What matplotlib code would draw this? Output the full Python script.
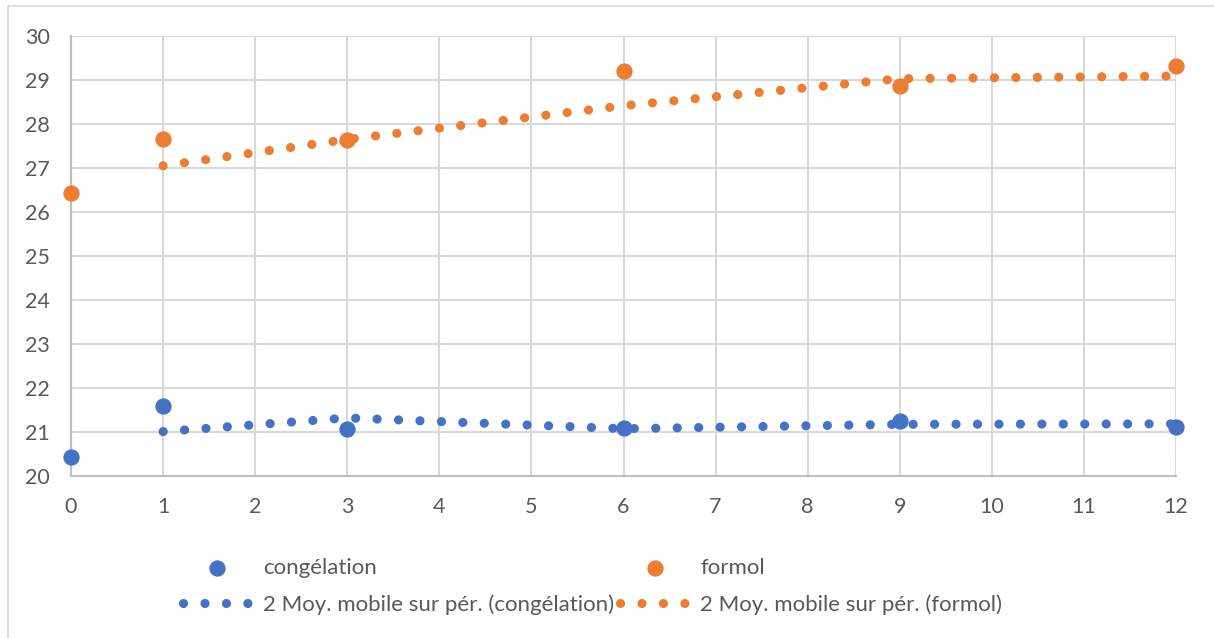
import matplotlib.pyplot as plt
import matplotlib.patches as patches
import numpy as np
import pandas as pd

# time points and measured values
jours = [0, 1, 3, 6, 9, 12]
congelation = [20.44, 21.58, 21.06, 21.09, 21.26, 21.11]
formol = [26.43, 27.67, 27.63, 29.20, 28.86, 29.32]

c_blue = '#4472C4'
c_orange = '#ED7D31'
grid_col = '#D9D9D9'
txt_col = '#595959'

plt.rcParams['font.family'] = ['Lato', 'DejaVu Sans']


def moy_mobile(x, y, n=2):
    # excel style moving average trendline: mean of last n points, placed at current x
    s = pd.Series(y).rolling(n).mean()
    return np.array(x[n - 1:]), s.values[n - 1:]


fig = plt.figure(figsize=(12.14, 6.38), dpi=100)
ax = fig.add_axes([0.0585, 0.2539, 0.9102, 0.6897])

# outer chart frame (only left and top edges visible in the crop)
fig.patches.append(patches.Rectangle((8 / 1214, -0.1), 1.2, (632 / 638) + 0.1,
                                     transform=fig.transFigure, fill=False,
                                     edgecolor=grid_col, linewidth=1.2))

tx, ty = moy_mobile(jours, congelation)
fx, fy = moy_mobile(jours, formol)

h1 = ax.scatter(jours, congelation, s=115, color=c_blue, zorder=4, label='congélation',
                clip_on=False)
h2 = ax.scatter(jours, formol, s=115, color=c_orange, zorder=4, label='formol', clip_on=False)
l1, = ax.plot(tx, ty, color=c_blue, linewidth=6.6, linestyle=(0, (0.01, 2.33)),
              dash_capstyle='round', zorder=3, clip_on=False,
              label='2 Moy. mobile sur pér. (congélation)')
l2, = ax.plot(fx, fy, color=c_orange, linewidth=6.6, linestyle=(0, (0.01, 2.33)),
              dash_capstyle='round', zorder=3, clip_on=False,
              label='2 Moy. mobile sur pér. (formol)')

ax.set_xlim(0, 12)
ax.set_ylim(20, 30)
ax.set_xticks(range(0, 13))
ax.set_yticks(range(20, 31))
ax.grid(True, color=grid_col, linewidth=1.5)
ax.set_axisbelow(True)
for sp in ['top', 'right']:
    ax.spines[sp].set_visible(False)
for sp in ['left', 'bottom']:
    ax.spines[sp].set_color('#BFBFBF')
    ax.spines[sp].set_linewidth(1.5)
ax.tick_params(length=0, labelsize=15.5, colors=txt_col, pad=15)

leg = ax.legend(handles=[h1, l1, h2, l2], ncol=2, loc='upper center',
                bbox_to_anchor=(0.472, -0.14), frameon=False, fontsize=16,
                handlelength=3.1, columnspacing=0.3, labelspacing=0.75,
                handletextpad=0.5, markerscale=1.0)
for t in leg.get_texts():
    t.set_color(txt_col)

plt.savefig('out.png', dpi=100)
